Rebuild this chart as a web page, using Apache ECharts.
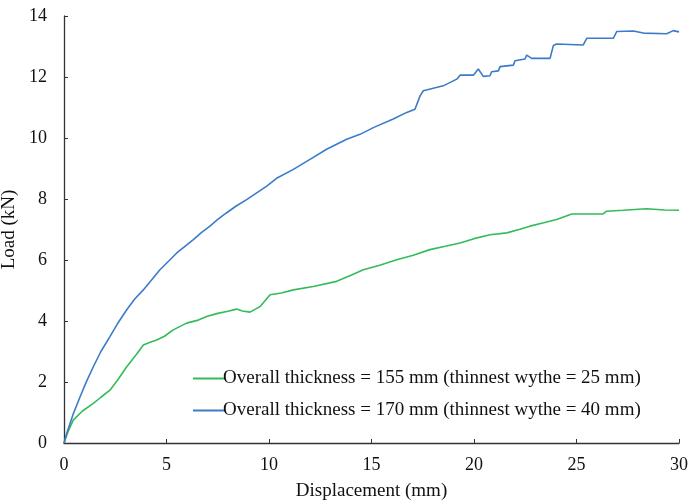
<!DOCTYPE html>
<html>
<head>
<meta charset="utf-8">
<script src="https://cdn.jsdelivr.net/npm/echarts@6/dist/echarts.min.js"></script>
<style>
  html, body { margin: 0; padding: 0; background: #fff; }
  #chart { width: 689px; height: 503px; }
</style>
</head>
<body>
<div id="chart"></div>
<script>
// displacement (mm), load (kN)
const legendNames = [
  'Overall thickness = 155 mm (thinnest wythe = 25 mm)',
  'Overall thickness = 170 mm (thinnest wythe = 40 mm)'
]

const thin25 = [
  [0, 0], [0.2, 0.38], [0.45, 0.75], [0.9, 1.05], [1.43, 1.3], [1.8, 1.5], [2.24, 1.73],
  [2.6, 2.05], [3.06, 2.5], [3.5, 2.88], [3.87, 3.21], [4.2, 3.3], [4.52, 3.38],
  [4.9, 3.5], [5.33, 3.71], [5.98, 3.93], [6.5, 4.02], [6.96, 4.15], [7.5, 4.25],
  [7.94, 4.31], [8.42, 4.39], [8.7, 4.33], [9.07, 4.29], [9.56, 4.47], [10.05, 4.86],
  [10.6, 4.92], [11.19, 5.02], [12.16, 5.13], [13.3, 5.3], [14.0, 5.5], [14.6, 5.68],
  [15.4, 5.83], [16.23, 6.01], [17.0, 6.15], [17.85, 6.34], [18.6, 6.45], [19.32, 6.56],
  [20.0, 6.7], [20.78, 6.83], [21.6, 6.89], [22.2, 7.0], [22.73, 7.11], [23.4, 7.22],
  [24.03, 7.33], [24.77, 7.51], [25.5, 7.51], [26.3, 7.51], [26.47, 7.6], [27.28, 7.63],
  [28.42, 7.68], [29.3, 7.64], [30.0, 7.63]
]

const thin40 = [
  [0, 0], [0.13, 0.31], [0.45, 0.95], [0.78, 1.51], [1.1, 2.02], [1.43, 2.5], [1.8, 3.0],
  [2.24, 3.49], [2.6, 3.9], [3.06, 4.37], [3.45, 4.72], [3.87, 5.02], [4.3, 5.37],
  [4.68, 5.68], [5.1, 5.96], [5.5, 6.23], [5.9, 6.45], [6.31, 6.67], [6.7, 6.9],
  [7.12, 7.11], [7.5, 7.33], [7.94, 7.55], [8.4, 7.77], [8.91, 7.98], [9.4, 8.2],
  [9.89, 8.42], [10.37, 8.68], [11.19, 8.97], [12.0, 9.3], [12.81, 9.63], [13.79, 9.96],
  [14.44, 10.12], [15.09, 10.34], [16.06, 10.62], [16.72, 10.84], [17.12, 10.94],
  [17.37, 11.38], [17.53, 11.55], [18.5, 11.71], [19.16, 11.93], [19.32, 12.06],
  [19.97, 12.06], [20.21, 12.26], [20.45, 12.02], [20.78, 12.04], [20.86, 12.17],
  [21.19, 12.2], [21.27, 12.34], [21.92, 12.39], [22.0, 12.53], [22.49, 12.59],
  [22.57, 12.72], [22.81, 12.61], [23.71, 12.61], [23.87, 13.03], [24.03, 13.08],
  [25.33, 13.05], [25.5, 13.27], [26.8, 13.27], [26.96, 13.49], [27.77, 13.51],
  [28.26, 13.44], [29.4, 13.42], [29.72, 13.52], [30.0, 13.48]
]

const chart = echarts.init(document.getElementById('chart'))

const font = 'Liberation Serif'
const axisColor = '#333'

chart.setOption({
  backgroundColor: '#fff',
  animation: false,
  textStyle: { fontFamily: font },
  grid: {
    left: 64,
    right: 10,
    top: 16,
    bottom: 60,
    outerBoundsMode: 'none'
  },
  legend: {
    orient: 'vertical',
    left: 188,
    top: 364,
    icon: 'rect',
    itemWidth: 32,
    itemHeight: 2,
    itemGap: 13,
    textStyle: {
      fontFamily: font,
      fontSize: 19,
      color: '#111',
      padding: [0, 0, 0, -7]
    },
    data: legendNames
  },
  xAxis: {
    type: 'value',
    min: 0,
    max: 30,
    interval: 5,
    name: 'Displacement (mm)',
    nameLocation: 'middle',
    nameGap: 39,
    nameTextStyle: { fontFamily: font, fontSize: 19, color: '#111' },
    axisLine: { lineStyle: { color: axisColor, width: 1.3 } },
    axisTick: { inside: true, length: 4, lineStyle: { color: axisColor } },
    axisLabel: { fontFamily: font, fontSize: 18, color: '#111', margin: 13 },
    splitLine: { show: false }
  },
  yAxis: {
    type: 'value',
    min: 0,
    max: 14,
    interval: 2,
    name: 'Load (kN)',
    nameLocation: 'middle',
    nameGap: 42,
    nameTextStyle: { fontFamily: font, fontSize: 19, color: '#111' },
    axisLine: { show: true, lineStyle: { color: axisColor, width: 1.3 } },
    axisTick: { show: true, inside: true, length: 4, lineStyle: { color: axisColor } },
    axisLabel: { fontFamily: font, fontSize: 18, color: '#111', margin: 17 },
    splitLine: { show: false }
  },
  series: [
    {
      name: legendNames[0],
      type: 'line',
      showSymbol: false,
      color: '#34bb5a',
      lineStyle: { width: 1.6 },
      data: thin25
    },
    {
      name: legendNames[1],
      type: 'line',
      showSymbol: false,
      color: '#3b7bc8',
      lineStyle: { width: 1.6 },
      data: thin40
    }
  ]
})
</script>
</body>
</html>
